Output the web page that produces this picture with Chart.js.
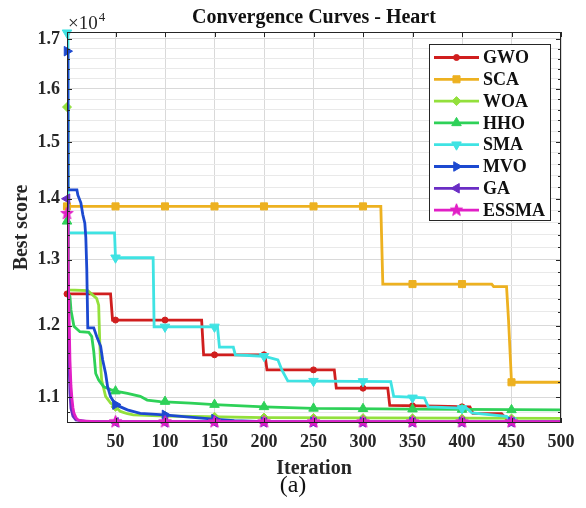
<!DOCTYPE html>
<html><head><meta charset="utf-8">
<script src="https://cdn.jsdelivr.net/npm/chart.js@4/dist/chart.umd.min.js"></script>
<style>html,body{margin:0;padding:0;background:#fff;}#wrap{width:586px;height:508px;}</style>
</head><body><div id="wrap"><canvas id="c" width="586" height="508"></canvas></div>
<script>
// ---------- data ----------
const SERIES = ['GWO','SCA','WOA','HHO','SMA','MVO','GA','ESSMA'];
const COLORS = ['#D01E1E','#EDB120','#93E03C','#2ED158','#3FE3E3','#1C49D0','#6A2DC4','#E11FC6'];
const MARK_ITERS = [1,50,100,150,200,250,300,350,400,450];
const X_TICKS = [50,100,150,200,250,300,350,400,450,500];
const Y_MAJOR = [11000,12000,13000,14000,15000,16000,17000];
const Y_MINOR = [10800,11200,11400,11600,11800,12200,12400,12600,12800,13200,13400,13600,13800,14200,14400,14600,14800,15200,15400,15600,15800,16200,16400,16600,16800];
const Y_LABELS = ['1.1','1.2','1.3','1.4','1.5','1.6','1.7'];

const GWO = [[1,12470],[45,12470],[47,12080],[137,12080],[139,11580],[201,11580],[203,11370],[271,11370],[273,11120],[325,11120],[327,10890],[375,10880],[408,10870],[411,10785],[440,10780],[447,10680],[500,10675]];
const SCA = [[1,13870],[318,13870],[320,12620],[430,12620],[432,12580],[445,12580],[447,12080],[450,11200],[500,11200]];
const WOA = [[1,15650],[2,12530],[22,12520],[28,12440],[31,12400],[33,12300],[34,11800],[35,11420],[36,11230],[40,11010],[45,10920],[50,10870],[55,10810],[62,10780],[68,10765],[100,10750],[200,10730],[500,10718]];
const HHO = [[1,13620],[2,12500],[4,12430],[5,12230],[8,11990],[14,11910],[23,11900],[26,11840],[28,11630],[30,11320],[33,11230],[38,11140],[45,11100],[50,11080],[62,11050],[75,11010],[82,10960],[95,10940],[126,10920],[150,10900],[200,10870],[250,10850],[350,10840],[500,10830]];
const SMA = [[1,17130],[2,13430],[49,13430],[50,13030],[88,13030],[89,11980],[153,11980],[155,11690],[169,11690],[171,11580],[200,11560],[214,11510],[218,11370],[224,11220],[328,11210],[331,11010],[362,10990],[366,10870],[405,10850],[410,10790],[445,10745],[450,10690],[455,10675],[500,10672]];
const MVO = [[1,16750],[2,14150],[11,14150],[12,14060],[15,13930],[17,13730],[19,13590],[20,13360],[21,12840],[22,11965],[28,11965],[31,11840],[35,11700],[37,11510],[40,11320],[42,11140],[45,11005],[50,10900],[55,10870],[62,10830],[75,10785],[99,10765],[122,10740],[149,10710],[170,10690],[200,10675],[500,10672]];
const GA = [[1,14000],[2,12300],[3,11500],[4,11050],[5,10850],[7,10750],[10,10700],[20,10680],[500,10668]];
const ESSMA = [[1,13750],[2,13000],[3,12200],[4,11500],[5,11150],[6,10980],[7,10860],[8,10790],[10,10730],[12,10700],[16,10685],[30,10678],[500,10675]];

const GWO_MARKS = [12470,12080,12080,11580,11580,11370,11120,10885,10870,10680];
const SCA_MARKS = [13870,13870,13870,13870,13870,13870,13870,12620,12620,11200];
const WOA_MARKS = [15650,10870,10750,10740,10730,10725,10722,10720,10719,10718];
const HHO_MARKS = [13620,11080,10940,10900,10870,10850,10845,10840,10835,10830];
const SMA_MARKS = [17130,13030,11980,11980,11560,11215,11212,10990,10850,10690];
const MVO_MARKS = [16750,10900,10765,10710,10675,10672,10672,10672,10672,10672];
const GA_MARKS = [14000,10668,10668,10668,10668,10668,10668,10668,10668,10668];
const ESSMA_MARKS = [13750,10675,10675,10675,10675,10675,10675,10675,10675,10675];

const LINES = [GWO,SCA,WOA,HHO,SMA,MVO,GA,ESSMA];
const MARKS = [GWO_MARKS,SCA_MARKS,WOA_MARKS,HHO_MARKS,SMA_MARKS,MVO_MARKS,GA_MARKS,ESSMA_MARKS];

// ---------- styling ----------
const FONT = 'Liberation Serif, Times New Roman, serif';
const INK = '#262626';
const LW = 2.8;
function makeStar(color, r) {
  const s = Math.ceil(r * 2 + 2);
  const cv = document.createElement('canvas');
  cv.width = s; cv.height = s;
  const g = cv.getContext('2d');
  g.beginPath();
  for (let k = 0; k < 10; k++) {
    const rad = (k % 2 === 0) ? r : r * 0.42;
    const a = -Math.PI / 2 + k * Math.PI / 5;
    const px = s / 2 + rad * Math.cos(a), py = s / 2 + rad * Math.sin(a);
    if (k === 0) g.moveTo(px, py); else g.lineTo(px, py);
  }
  g.closePath();
  g.fillStyle = color; g.fill();
  g.strokeStyle = color; g.lineWidth = 1; g.stroke();
  return cv;
}
const STAR = makeStar(COLORS[7], 6.5);
const MARKER = [
  {style:'circle', r:3, rot:0},
  {style:'rect', r:5, rot:0},
  {style:'rectRot', r:4.5, rot:0},
  {style:'triangle', r:5.5, rot:0},
  {style:'triangle', r:5.5, rot:180},
  {style:'triangle', r:5.5, rot:90},
  {style:'triangle', r:5.5, rot:-90},
  {style:STAR, r:6, rot:0}
];

const datasets = [];
SERIES.forEach((name, i) => {
  datasets.push({
    label: name,
    data: LINES[i].map(p => ({x: p[0], y: p[1]})),
    borderColor: COLORS[i], backgroundColor: COLORS[i],
    borderWidth: LW, pointRadius: 0, tension: 0, fill: false,
    order: 2 * (8 - i) + 1
  });
  datasets.push({
    label: name + ' markers',
    data: MARK_ITERS.map((x, k) => ({x: x, y: MARKS[i][k]})),
    showLine: false,
    pointStyle: MARKER[i].style, pointRadius: MARKER[i].r, pointRotation: MARKER[i].rot,
    pointBackgroundColor: COLORS[i], pointBorderColor: COLORS[i], pointBorderWidth: 1,
    borderColor: COLORS[i], backgroundColor: COLORS[i],
    clip: 10, order: 2 * (8 - i)
  });
});

function drawMarker(ctx, i, x, y) {
  const m = MARKER[i];
  ctx.save();
  ctx.fillStyle = COLORS[i]; ctx.strokeStyle = COLORS[i]; ctx.lineWidth = 1;
  if (typeof m.style !== 'string') {
    ctx.drawImage(m.style, x - m.style.width / 2, y - m.style.height / 2);
    ctx.restore(); return;
  }
  ctx.beginPath();
  if (m.style === 'circle') {
    ctx.arc(x, y, m.r, 0, Math.PI * 2);
  } else if (m.style === 'rect') {
    const s = m.r * Math.SQRT1_2;
    ctx.rect(x - s, y - s, 2 * s, 2 * s);
  } else if (m.style === 'rectRot') {
    ctx.moveTo(x, y - m.r); ctx.lineTo(x + m.r, y); ctx.lineTo(x, y + m.r); ctx.lineTo(x - m.r, y);
  } else {
    let rad = m.rot * Math.PI / 180;
    for (let k = 0; k < 3; k++) {
      const px = x + Math.sin(rad) * m.r, py = y - Math.cos(rad) * m.r;
      if (k === 0) ctx.moveTo(px, py); else ctx.lineTo(px, py);
      rad += 2 * Math.PI / 3;
    }
  }
  ctx.closePath(); ctx.fill(); ctx.stroke();
  ctx.restore();
}

const framePlugin = {
  id: 'frame',
  afterDatasetsDraw(chart) {
    const {ctx, chartArea: a, scales} = chart;
    ctx.save();
    ctx.strokeStyle = INK; ctx.lineWidth = 1;
    ctx.strokeRect(a.left + 0.5, a.top + 0.5, a.right - a.left - 1, a.bottom - a.top - 1);
    ctx.beginPath();
    X_TICKS.forEach(v => {
      const px = Math.round(scales.x.getPixelForValue(v)) + 0.5;
      ctx.moveTo(px, a.bottom); ctx.lineTo(px, a.bottom - 5);
      ctx.moveTo(px, a.top); ctx.lineTo(px, a.top + 5);
    });
    Y_MAJOR.forEach(v => {
      const py = Math.round(scales.y.getPixelForValue(v)) + 0.5;
      ctx.moveTo(a.left, py); ctx.lineTo(a.left + 5, py);
      ctx.moveTo(a.right, py); ctx.lineTo(a.right - 5, py);
    });
    Y_MINOR.forEach(v => {
      const py = Math.round(scales.y.getPixelForValue(v)) + 0.5;
      ctx.moveTo(a.left, py); ctx.lineTo(a.left + 3, py);
      ctx.moveTo(a.right, py); ctx.lineTo(a.right - 3, py);
    });
    ctx.stroke();
    ctx.restore();
  },
  afterDraw(chart) {
    const {ctx, chartArea: a} = chart;
    ctx.save();
    // exponent label
    ctx.fillStyle = INK; ctx.textBaseline = 'alphabetic'; ctx.textAlign = 'left';
    ctx.font = '19px ' + FONT;
    ctx.fillText('\u00d710', a.left + 1, 29);
    const w = ctx.measureText('\u00d710').width;
    ctx.font = '13px ' + FONT;
    ctx.fillText('4', a.left + 1 + w + 1, 21);
    // legend
    const bx = 429, by = 44, bw = 121, bh = 176;
    ctx.fillStyle = '#ffffff';
    ctx.fillRect(bx, by, bw, bh);
    ctx.strokeStyle = INK; ctx.lineWidth = 1;
    ctx.strokeRect(bx + 0.5, by + 0.5, bw, bh);
    ctx.font = 'bold 18px ' + FONT;
    ctx.textBaseline = 'middle';
    SERIES.forEach((name, i) => {
      const y = 57.5 + i * 21.8;
      ctx.strokeStyle = COLORS[i]; ctx.lineWidth = LW;
      ctx.beginPath(); ctx.moveTo(434, y); ctx.lineTo(479, y); ctx.stroke();
      drawMarker(ctx, i, 456.5, y);
      ctx.fillStyle = '#111111';
      ctx.fillText(name, 483, y + 1);
    });
    // panel caption
    ctx.font = '24px ' + FONT;
    ctx.textAlign = 'center'; ctx.textBaseline = 'middle';
    ctx.fillStyle = '#111111';
    ctx.fillText('(a)', 293, 486);
    ctx.restore();
  }
};

new Chart(document.getElementById('c'), {
  type: 'line',
  data: {datasets},
  plugins: [framePlugin],
  options: {
    responsive: false, animation: false, devicePixelRatio: 1,
    layout: {padding: {left: 0, right: 25, top: 0, bottom: 0}},
    plugins: {
      legend: {display: false}, tooltip: {enabled: false},
      title: {display: true, text: 'Convergence Curves - Heart', fullSize: false,
        color: '#111111', font: {family: FONT, size: 20, weight: 'bold', lineHeight: 1.2},
        padding: {top: 6, bottom: 2}}
    },
    scales: {
      x: {
        type: 'linear', min: 1, max: 500,
        afterBuildTicks: s => { s.ticks = X_TICKS.map(v => ({value: v})); },
        afterFit: s => { s.height = 85; },
        ticks: {autoSkip: false, maxRotation: 0, padding: 9, color: INK,
          font: {family: FONT, size: 18, weight: 'bold'}},
        grid: {color: '#D9D9D9', drawTicks: false, lineWidth: 1},
        border: {display: false},
        title: {display: true, text: 'Iteration', color: INK,
          font: {family: FONT, size: 20, weight: 'bold', lineHeight: 1.2},
          padding: {top: 0, bottom: 27}}
      },
      y: {
        type: 'logarithmic', min: 10659, max: 17145,
        afterBuildTicks: s => {
          s.ticks = Y_MINOR.concat(Y_MAJOR).sort((a, b) => a - b).map(v => ({value: v}));
        },
        afterFit: s => { s.width = 67; },
        ticks: {autoSkip: false, padding: 7, color: INK,
          font: {family: FONT, size: 18, weight: 'bold'},
          callback: v => { const k = Y_MAJOR.indexOf(v); return k >= 0 ? Y_LABELS[k] : ''; }},
        grid: {color: c => (c.tick && Y_MAJOR.includes(c.tick.value)) ? '#D9D9D9' : '#E9E9E9',
          drawTicks: false, lineWidth: 1},
        border: {display: false},
        title: {display: true, text: 'Best score', color: INK,
          font: {family: FONT, size: 20, weight: 'bold', lineHeight: 1.2},
          padding: {top: 10, bottom: 0}}
      }
    }
  }
});
</script>
</body></html>
